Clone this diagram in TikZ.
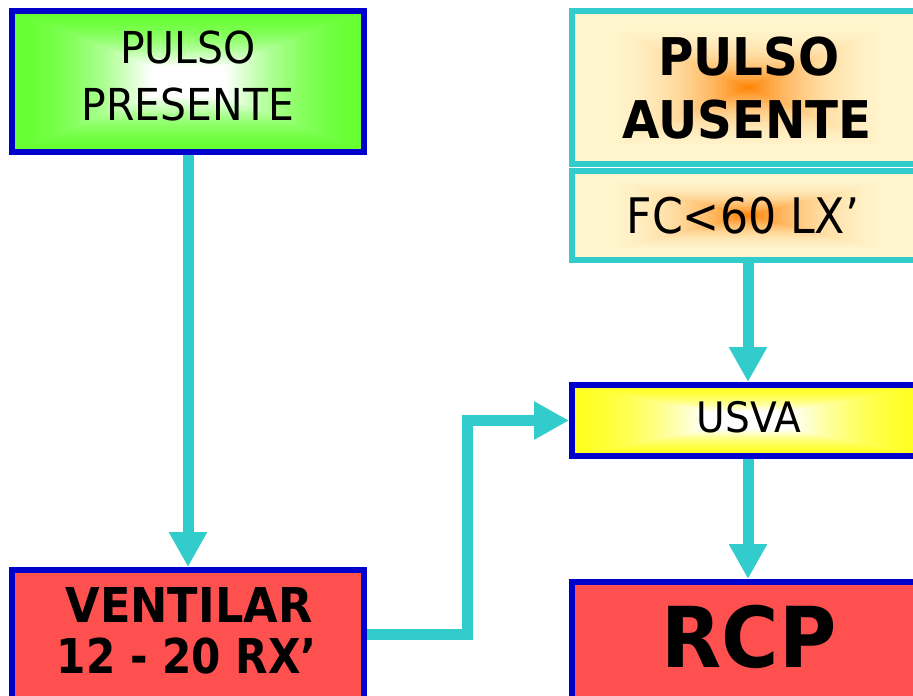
\documentclass[tikz,border=0pt]{standalone}
\usepackage{fontspec}
\setmainfont{DejaVu Sans}[FakeStretch=0.93]
\usetikzlibrary{arrows.meta,backgrounds}
\definecolor{cyanA}{HTML}{33CCCC}
\definecolor{blueB}{HTML}{0000CC}
\definecolor{redR}{HTML}{FF5050}
\definecolor{gEdge}{HTML}{66FF33}
\definecolor{yEdge}{HTML}{FFFF22}
\definecolor{orangeC}{HTML}{FF8000}
\definecolor{creamC}{HTML}{FFF6CF}
% rectangular "path" gradient: #1 node, #2 half width, #3 half height,
% #4 colour A, #5 colour B, #6 percentage of A as a function of \gtval (0 edge .. 1 centre)
\newcommand\rectgrad[6]{%
  \foreach \i in {0,...,59}{%
    \pgfmathsetmacro\gtval{\i/60}%
    \pgfmathsetmacro\gpc{int(min(100,max(0,#6)))}%
    \pgfmathsetmacro\gw{#2*(1-\gtval)}%
    \pgfmathsetmacro\gh{#3*(1-\gtval)}%
    \fill[fill=#4!\gpc!#5, shift={(#1.center)}] (-\gw,-\gh) rectangle (\gw,\gh);
  }}
\begin{document}
\begin{tikzpicture}[x=1pt,y=-1pt,
  bluebox/.style={draw=blueB, line width=6pt, inner sep=0pt, minimum width=352pt},
  cyanbox/.style={draw=cyanA, line width=6pt, inner sep=0pt, minimum width=352pt},
  flow/.style={draw=cyanA, line width=11pt, line join=miter, -{Triangle[width=36pt,length=35pt]}},
  txt/.style={anchor=base, inner sep=0pt, outer sep=0pt}
]
\useasboundingbox (0,0) rectangle (913,696);
% boxes
\node[bluebox, minimum height=141pt] (pp) at (188,81.5) {};
\node[cyanbox, minimum height=153pt] (pa) at (748,87.5) {};
\node[cyanbox, minimum height=89pt] (fc) at (748,215.5) {};
\node[bluebox, minimum height=71pt] (usva) at (748,420.5) {};
\node[bluebox, minimum height=160pt, fill=redR] (vent) at (188,650) {};
\node[bluebox, minimum height=158pt, fill=redR] (rcp) at (748,661) {};
\begin{pgfonlayer}{background}
\rectgrad{pp}{176}{70.5}{white}{gEdge}{100*max(0.001,\gtval/0.78)^1.8}
\rectgrad{usva}{176}{35.5}{white}{yEdge}{100*max(0.001,\gtval/0.75)^1.7}
\rectgrad{pa}{176}{76.5}{orangeC}{creamC}{100*max(0.001,\gtval)^2.6}
\rectgrad{fc}{176}{44.5}{orangeC}{creamC}{100*max(0.001,\gtval)^2.6}
\end{pgfonlayer}
% texts
\node[txt, font=\fontsize{44}{44}\selectfont] (pp1) at (188,63) {PULSO};
\node[txt, font=\fontsize{44}{44}\selectfont] (pp2) at (188,120) {PRESENTE};
\node[txt, font=\bfseries\fontsize{52}{52}\selectfont] (pa1) at (749,75) {PULSO};
\node[txt, font=\bfseries\fontsize{52}{52}\selectfont] (pa2) at (747,138) {AUSENTE};
\node[txt, font=\fontsize{49}{49}\selectfont] (fc1) at (743,233) {\scalebox{0.97}[1]{FC<60 LX’}};
\node[txt, font=\fontsize{42}{42}\selectfont] (us1) at (749,432) {USVA};
\node[txt, font=\bfseries\fontsize{48}{48}\selectfont] (ve1) at (189,622) {VENTILAR};
\node[txt, font=\bfseries\fontsize{48}{48}\selectfont] (ve2) at (187,673) {\scalebox{0.945}[1]{12 - 20 RX’}};
\node[txt, font=\bfseries\fontsize{84}{84}\selectfont] (rc1) at (749,667) {RCP};
% connectors
\coordinate (bend) at (467,634);
\draw[flow] (pp.south) -- (vent.north);
\draw[flow] (fc.south) -- (usva.north);
\draw[flow] (usva.south) -- (rcp.north);
\draw[flow] (bend -| vent.east) -- (bend) |- (usva.west);
\end{tikzpicture}
\end{document}
